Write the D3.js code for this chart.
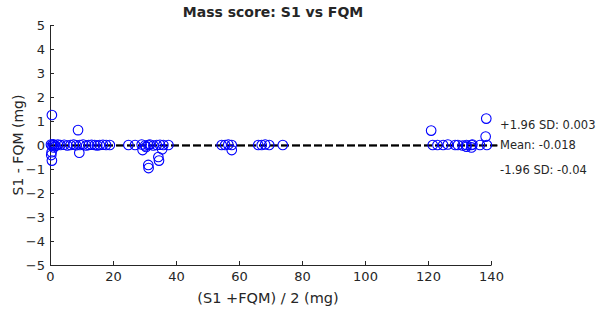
<!DOCTYPE html>
<html>
<head>
<meta charset="utf-8">
<script src="https://cdn.jsdelivr.net/npm/d3@7"></script>
<style>
html,body{margin:0;padding:0;background:#fff;}
svg{display:block;}
text{font-family:"DejaVu Sans",Verdana,sans-serif;fill:#262626;}
</style>
</head>
<body>
<div id="chart"></div>
<script>
// ---- data ----
const meanX = [0.3,0.6,1.0,1.3,1.8,2.5,3.3,4.5,5.5,6.5,7.5,8.3,9.5,10.5,11.5,12.3,13.2,14.2,15.0,15.8,16.8,17.8,19.0,
  24.9,27.0,29.1,30.2,31.2,31.7,32.8,33.9,34.9,36.0,37.6,
  54.5,55.6,56.6,57.7,66.1,67.2,68.3,69.6,73.9,
  121.5,123.0,124.8,126.3,128.6,129.5,131.0,132.2,133.8,134.1,136.5,138.7,
  0.6,0.5,0.4,0.6,8.9,9.3,1.2,
  29.4,31.2,31.3,34.4,34.6,35.6,30.5,
  57.7,121.0,132.2,133.8,138.5,138.3];
const diffY = [0.02,-0.02,0.03,0.0,-0.03,0.02,0.0,0.01,-0.02,0.0,0.02,-0.01,0.0,0.02,-0.02,0.0,0.01,0.0,-0.02,0.0,0.01,0.0,0.0,
  0.0,0.0,0.02,-0.02,0.0,0.02,-0.02,0.0,0.01,0.0,0.0,
  0.0,0.0,0.02,0.0,0.0,0.0,0.02,0.0,0.0,
  0.0,0.0,0.0,0.02,0.0,0.0,-0.02,0.0,0.0,0.02,0.0,0.0,
  1.25,-0.3,-0.42,-0.65,0.62,-0.32,-0.1,
  -0.21,-0.83,-0.96,-0.5,-0.65,-0.18,-0.08,
  -0.21,0.6,-0.07,-0.1,1.1,0.35];
const meanDiff = -0.018;
const upperLoA = 0.003;
const lowerLoA = -0.04;
const xTicks = [0,20,40,60,80,100,120,140];
const yTicks = [-5,-4,-3,-2,-1,0,1,2,3,4,5];
const titleText = "Mass score: S1 vs FQM";
const xLabel = "(S1 +FQM) / 2 (mg)";
const yLabel = "S1 - FQM (mg)";
const lineLabels = ["+1.96 SD: 0.003","Mean: -0.018","-1.96 SD: -0.04"];

// ---- layout ----
const W = 597, H = 313;
const L = 50, R = 491, T = 25, B = 265;
const svg = d3.select("#chart").append("svg").attr("width", W).attr("height", H);

const x = d3.scaleLinear().domain([0,140]).range([L,R]);
const y = d3.scaleLinear().domain([-5,5]).range([B,T]);

// axes
const xAxis = d3.axisBottom(x).tickValues(xTicks).tickSizeInner(-4).tickSizeOuter(0).tickPadding(7);
const yAxis = d3.axisLeft(y).tickValues(yTicks).tickSizeInner(-4).tickSizeOuter(0).tickPadding(5);

const gx = svg.append("g").attr("transform", `translate(0,${B})`).call(xAxis);
const gy = svg.append("g").attr("transform", `translate(${L},0)`).call(yAxis);
[gx, gy].forEach(g => {
  g.select(".domain").attr("stroke", "#262626");
  g.selectAll(".tick line").attr("stroke", "#262626");
  g.selectAll(".tick text").style("font-size", "13px").style("font-family", '"DejaVu Sans",Verdana,sans-serif').attr("fill", "#262626");
});

// reference lines
const xEnd = 142;
[upperLoA, lowerLoA].forEach(v => {
  svg.append("line").attr("x1", x(0)).attr("x2", x(xEnd)).attr("y1", y(v)).attr("y2", y(v))
    .attr("stroke", "#000").attr("stroke-width", 1).attr("stroke-dasharray", "8,3");
});
svg.append("line").attr("x1", x(0)).attr("x2", x(xEnd)).attr("y1", y(meanDiff)).attr("y2", y(meanDiff))
  .attr("stroke", "#000").attr("stroke-width", 1.5).attr("stroke-dasharray", "8,3");

// points
svg.append("g").selectAll("circle").data(meanX.map((d,i)=>[d,diffY[i]])).join("circle")
  .attr("cx", d => x(d[0])).attr("cy", d => y(d[1])).attr("r", 4.8)
  .attr("fill", "none").attr("stroke", "#0000ff").attr("stroke-width", 1.1);

// line labels
const labY = [129, 149, 174];
lineLabels.forEach((t,i) => {
  svg.append("text").attr("x", 500).attr("y", labY[i]).text(t)
    .style("font-size", "11.5px").attr("fill", "#000");
});

// title & labels
svg.append("text").attr("x", 273).attr("y", 17).attr("text-anchor", "middle")
  .style("font-size", "14px").style("font-weight", "bold").attr("fill", "#000").text(titleText);
svg.append("text").attr("x", 268).attr("y", 303).attr("text-anchor", "middle")
  .style("font-size", "14.5px").text(xLabel);
svg.append("text").attr("transform", `translate(23,145) rotate(-90)`).attr("text-anchor", "middle")
  .style("font-size", "14px").text(yLabel);
</script>
</body>
</html>
